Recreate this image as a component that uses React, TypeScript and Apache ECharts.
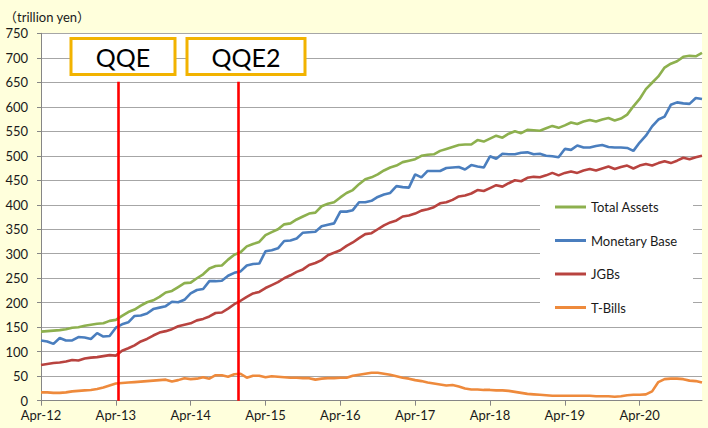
import React, { useEffect, useRef } from "react";
import * as echarts from "echarts";

// x tick labels (one every 12 months, starting at Apr-12 = month index 0)
const tickLabels = ["Apr-12", "Apr-13", "Apr-14", "Apr-15", "Apr-16", "Apr-17", "Apr-18", "Apr-19", "Apr-20"];

// monthly values, Apr-2012 .. Feb-2021 (trillion yen)
const totalAssets = [
  141, 142, 143, 144, 146, 149, 150, 153, 155, 157, 158, 163,
  165, 173, 181, 186, 194, 201, 205, 212, 221, 224, 232, 240,
  241, 250, 258, 270, 275, 276, 288, 298, 303, 315, 320, 324,
  338, 344, 350, 360, 362, 370, 376, 382, 384, 397, 402, 405,
  415, 424, 430, 442, 452, 456, 462, 470, 476, 480, 487, 490,
  493, 500, 502, 503, 510, 514, 518, 522, 523, 523, 532, 529,
  535, 541, 537, 545, 550, 546, 553, 552, 551, 556, 561, 557,
  562, 568, 565, 570, 573, 570, 574, 577, 572, 576, 584, 601,
  616, 636, 649, 662, 680, 688, 693, 702, 704, 703, 710,
];
const monetaryBase = [
  123, 121, 116, 128, 123, 123, 130, 129, 126, 138, 131, 132,
  149, 156, 160, 173, 174, 178, 187, 190, 193, 202, 201, 206,
  219, 226, 228, 244, 244, 245, 255, 261, 264, 276, 279, 280,
  305, 307, 311, 326, 327, 331, 343, 344, 345, 356, 359, 362,
  386, 386, 389, 405, 405, 408, 416, 421, 424, 438, 436, 435,
  462, 456, 469, 469, 469, 475, 476, 477, 472, 481, 478, 476,
  499, 494, 504, 503, 503, 506, 507, 503, 504, 500, 499, 497,
  514, 512, 521, 517, 517, 520, 522, 518, 517, 517, 516, 510,
  527, 541, 560, 574, 580, 604, 609, 607, 606, 618, 616,
];
const jgbs = [
  73, 75, 77, 78, 80, 83, 82, 86, 88, 89, 91, 93,
  92, 102, 107, 113, 121, 126, 133, 139, 142, 146, 152, 155,
  158, 164, 167, 172, 179, 180, 188, 197, 204, 212, 219, 222,
  230, 236, 242, 250, 256, 263, 268, 277, 281, 287, 297, 302,
  307, 316, 323, 332, 340, 342, 350, 358, 364, 368, 376, 378,
  382, 388, 391, 395, 403, 405, 410, 417, 419, 423, 430, 428,
  434, 440, 437, 444, 450, 448, 455, 457, 456, 460, 465, 460,
  465, 468, 465, 470, 473, 470, 474, 478, 473, 477, 480, 474,
  480, 483, 480, 485, 489, 485, 490, 496, 493, 497, 500,
];
const tBills = [
  17, 17, 16, 16, 17, 19, 20, 21, 22, 24, 27, 31,
  35, 36, 37, 38, 39, 40, 41, 42, 43, 39, 42, 46,
  44, 45, 48, 45, 52, 52, 49, 54, 55, 47, 51, 51,
  48, 50, 49, 48, 47, 47, 46, 46, 43, 45, 46, 46,
  47, 47, 51, 53, 55, 57, 57, 55, 53, 50, 47, 45,
  42, 40, 37, 35, 33, 31, 32, 29, 25, 23, 23, 22,
  22, 21, 21, 20, 18, 16, 14, 13, 12, 11, 10, 10,
  10, 10, 10, 10, 10, 9, 9, 9, 8, 9, 11, 12,
  12, 13, 19, 38, 44, 45, 45, 44, 41, 40, 37,
];

// policy events (month index) and the height their marker lines reach
const policyNames = ["QQE", "QQE2"];
const policyMonths = [12.4, 31.65];
const policyLineTop = 651;

const seriesNames = ["Total Assets", "Monetary Base", "JGBs", "T-Bills"];
const seriesColors = ["#8DB04E", "#4A7EBE", "#B8433F", "#EE8A3C"];
const seriesValues = [totalAssets, monetaryBase, jgbs, tBills];

const FONT = 'Lato, "Noto Sans CJK JP", sans-serif';

export default function App() {
  const ref = useRef<HTMLDivElement>(null);
  useEffect(() => {
    if (!ref.current) return;
    const chart = echarts.init(ref.current, undefined, { renderer: "svg" });
    const lastIdx = totalAssets.length - 1;

    const series: any[] = seriesValues.map((vals, k) => ({
      name: seriesNames[k],
      type: "line",
      data: vals.map((v, i) => [i, v]),
      showSymbol: false,
      symbol: "none",
      color: seriesColors[k],
      lineStyle: { width: 2.6, color: seriesColors[k] },
      z: 3,
    }));
    series[3].markLine = {
      silent: true,
      symbol: ["none", "none"],
      animation: false,
      label: { show: false },
      lineStyle: { color: "#FF0000", width: 2.6, type: "solid" },
      data: policyMonths.map((m) => [{ coord: [m, 0] }, { coord: [m, policyLineTop] }]),
    };

    const boxes = [
      { x: 71, w: 104 },
      { x: 187, w: 118 },
    ];
    const graphics: any[] = [
      {
        type: "rect",
        z: 1,
        silent: true,
        shape: { x: 540, y: 190, width: 153, height: 132 },
        style: { fill: "#FFFFFF" },
      },
      {
        type: "text",
        x: 4,
        y: 17,
        silent: true,
        style: {
          text: "（trillion yen）",
          fontSize: 13,
          fontFamily: FONT,
          fill: "#1a1a1a",
          verticalAlign: "middle",
        },
      },
    ];
    boxes.forEach((b, k) => {
      graphics.push({
        type: "rect",
        z: 10,
        silent: true,
        shape: { x: b.x, y: 38.5, width: b.w, height: 36 },
        style: { fill: "#FFFFFF", stroke: "#F2B300", lineWidth: 3 },
      });
      graphics.push({
        type: "text",
        z: 11,
        silent: true,
        x: b.x + b.w / 2,
        y: 57,
        style: {
          text: policyNames[k],
          fontSize: 25,
          fontFamily: FONT,
          fill: "#000000",
          align: "center",
          verticalAlign: "middle",
        },
      });
    });

    chart.setOption({
      animation: false,
      backgroundColor: "#FFFFDC",
      textStyle: { fontFamily: FONT },
      grid: {
        left: 41,
        right: 6,
        top: 33.3,
        bottom: 27.3,
        show: true,
        backgroundColor: "#FFFFFF",
        borderWidth: 0,
      },
      legend: {
        data: seriesNames,
        orient: "vertical",
        left: 555,
        top: 199,
        padding: 0,
        icon: "rect",
        itemWidth: 31,
        itemHeight: 3,
        itemGap: 17.5,
        textStyle: { fontSize: 13, color: "#1a1a1a", lineHeight: 16, fontFamily: FONT },
        selectedMode: false,
      },
      xAxis: {
        type: "value",
        min: 0,
        max: lastIdx,
        interval: 12,
        axisLine: { show: true, lineStyle: { color: "#868686", width: 1 } },
        axisTick: { show: true, length: 5, lineStyle: { color: "#868686" } },
        splitLine: { show: false },
        axisLabel: {
          fontSize: 13,
          color: "#1a1a1a",
          margin: 8,
          showMaxLabel: false,
          formatter: (v: number) => (v % 12 === 0 ? tickLabels[v / 12] ?? "" : ""),
        },
      },
      yAxis: {
        type: "value",
        min: 0,
        max: 750,
        interval: 50,
        axisLine: { show: true, lineStyle: { color: "#868686", width: 1 } },
        axisTick: { show: true, length: 4, lineStyle: { color: "#868686" } },
        splitLine: { show: true, lineStyle: { color: "#A6A6A6", width: 1 } },
        axisLabel: { fontSize: 13, color: "#1a1a1a", margin: 13 },
      },
      graphic: graphics,
      series,
    });
    return () => chart.dispose();
  }, []);
  return (
    <div
      ref={ref}
      style={{ position: "absolute", left: 0, top: 0, width: 708, height: 428, background: "#FFFFDC" }}
    />
  );
}
